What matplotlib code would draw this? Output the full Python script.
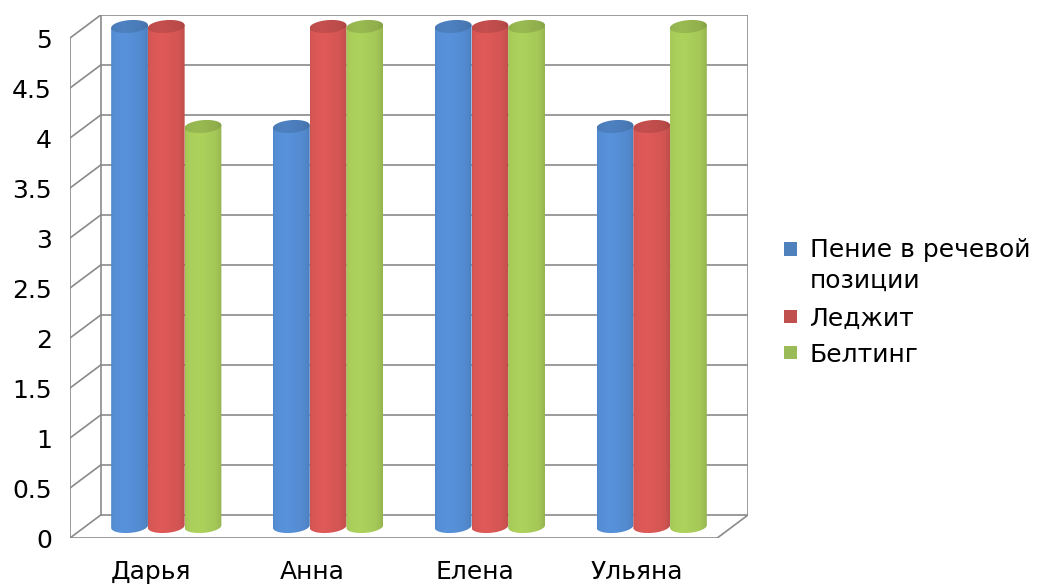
import numpy as np
import matplotlib
matplotlib.use("Agg")
import matplotlib.pyplot as plt
from matplotlib.path import Path
from matplotlib.patches import PathPatch, Rectangle

# ---- data -------------------------------------------------------------
categories = ["Дарья", "Анна", "Елена", "Ульяна"]
series_names = ["Пение в речевой\nпозиции", "Леджит", "Белтинг"]
singing_speech = [5, 4, 5, 4]
legit = [5, 5, 5, 4]
belting = [4, 5, 5, 5]
ytick_values = [0, 0.5, 1, 1.5, 2, 2.5, 3, 3.5, 4, 4.5, 5]
ytick_labels = ["0", "0.5", "1", "1.5", "2", "2.5", "3", "3.5", "4", "4.5", "5"]

series_values = [singing_speech, legit, belting]

# ---- style ------------------------------------------------------------
body_colors = [(86, 143, 214), (218, 88, 86), (170, 206, 90)]
legend_colors = ["#4F81BD", "#C0504D", "#9BBB59"]
grid_color = "#8A8A8A"
W, H = 1038, 585
DX, DY = 0.19, 0.23          # depth of the box (x units, value units)
MDX, MDY = DX / 2, DY / 2     # cylinders sit half way into the box
BW = 0.227                    # cylinder width
RY = 0.064                    # vertical semi-axis of cylinder ellipses
TILT = 0.12                   # slight perspective tilt of the ellipses
YMAX = 5

fig = plt.figure(figsize=(W / 100, H / 100), dpi=100)
fig.patch.set_facecolor("white")
ax = fig.add_axes([70 / W, (H - 538) / H, 678 / W, 523 / H])
ax.set_facecolor("none")
for s in ax.spines.values():
    s.set_visible(False)

x_left, x_right = -0.5, len(categories) - 0.5
lw = 1.2

# back wall gridlines and left side wall
for v in ytick_values:
    ax.plot([x_left + DX, x_right + DX], [v + DY, v + DY], color=grid_color, lw=lw, zorder=1)
    ax.plot([x_left, x_left + DX], [v, v + DY], color=grid_color, lw=lw, zorder=1)
ax.plot([x_left, x_left], [0, YMAX], color=grid_color, lw=lw, zorder=1)
ax.plot([x_left + DX, x_left + DX], [DY, YMAX + DY], color=grid_color, lw=lw, zorder=1)
ax.plot([x_right + DX, x_right + DX], [DY, YMAX + DY], color=grid_color, lw=lw, zorder=1)
# floor
ax.plot([x_left, x_right], [0, 0], color=grid_color, lw=lw, zorder=1)
ax.plot([x_right, x_right + DX], [0, DY], color=grid_color, lw=lw, zorder=1)


def shade_profile(n):
    t = np.linspace(0, 1, n)
    f = 0.97 + 0.05 * np.exp(-((t - 0.35) / 0.3) ** 2) - 0.10 * np.clip((t - 0.75) / 0.25, 0, 1) ** 2
    f -= 0.04 * np.clip((0.06 - t) / 0.06, 0, 1)
    return f


def gradient_image(rgb, factor):
    f = shade_profile(200) * factor
    col = np.array(rgb, dtype=float) / 255.0
    img = np.clip(f[:, None] * col[None, :], 0, 1)
    return img[None, :, :]


def cylinder(x0, x1, value, rgb, z):
    xc = (x0 + x1) / 2
    rx = (x1 - x0) / 2
    bot = MDY
    top = value + MDY
    th = np.linspace(np.pi, 2 * np.pi, 60)
    arc_x = xc + rx * np.cos(th)
    arc_y = bot + RY * np.sin(th) + TILT * (arc_x - xc)
    verts = ([(x0, top - TILT * rx)] + list(zip(arc_x, arc_y))
             + [(x1, top + TILT * rx), (x0, top - TILT * rx)])
    body = Path(verts, [Path.MOVETO] + [Path.LINETO] * (len(verts) - 2) + [Path.CLOSEPOLY])
    im = ax.imshow(gradient_image(rgb, 1.0), extent=(x0, x1, bot - 2 * RY, top + 2 * RY),
                   aspect="auto", origin="lower", interpolation="bilinear", zorder=z)
    im.set_clip_path(PathPatch(body, transform=ax.transData))

    th2 = np.linspace(0, 2 * np.pi, 120)
    cx = xc + rx * np.cos(th2)
    cy = top + RY * np.sin(th2) + TILT * (cx - xc)
    cap_verts = list(zip(cx, cy))
    cap = Path(cap_verts + [cap_verts[0]],
               [Path.MOVETO] + [Path.LINETO] * (len(cap_verts) - 1) + [Path.CLOSEPOLY])
    im2 = ax.imshow(gradient_image(rgb, 0.88), extent=(x0, x1, top - 2 * RY, top + 2 * RY),
                    aspect="auto", origin="lower", interpolation="bilinear", zorder=z + 0.5)
    im2.set_clip_path(PathPatch(cap, transform=ax.transData))


z = 3
for ci in range(len(categories)):
    for si, vals in enumerate(series_values):
        center = ci + (si - 1) * BW
        x0 = center - BW / 2 + MDX
        x1 = center + BW / 2 + MDX
        cylinder(x0, x1, vals[ci], body_colors[si], z)
        z += 1

ax.set_xlim(x_left, x_right + DX)
ax.set_ylim(0, YMAX + DY)
ax.set_xticks(range(len(categories)))
ax.set_xticklabels(categories)
ax.set_yticks(ytick_values)
ax.set_yticklabels(ytick_labels)
ax.tick_params(axis="both", length=0, labelsize=18, colors="black")
ax.tick_params(axis="y", pad=13)
ax.tick_params(axis="x", pad=16)

# legend
sq = 13
sq_x = 784
text_x = 810
legend_centers = [249, 316, 352]
legend_baselines = [257, 326, 362]
for color, name, yc, yb in zip(legend_colors, series_names, legend_centers, legend_baselines):
    fig.add_artist(Rectangle((sq_x / W, (H - yc - sq / 2) / H), sq / W, sq / H,
                             transform=fig.transFigure, facecolor=color, edgecolor="none"))
    first, *rest = name.split("\n")
    fig.text(text_x / W, (H - yb) / H, first, fontsize=18, va="baseline", ha="left")
    for k, line in enumerate(rest, start=1):
        fig.text(text_x / W, (H - yb - 31 * k) / H, line, fontsize=18, va="baseline", ha="left")

fig.savefig("out.png", dpi=100, facecolor="white")
